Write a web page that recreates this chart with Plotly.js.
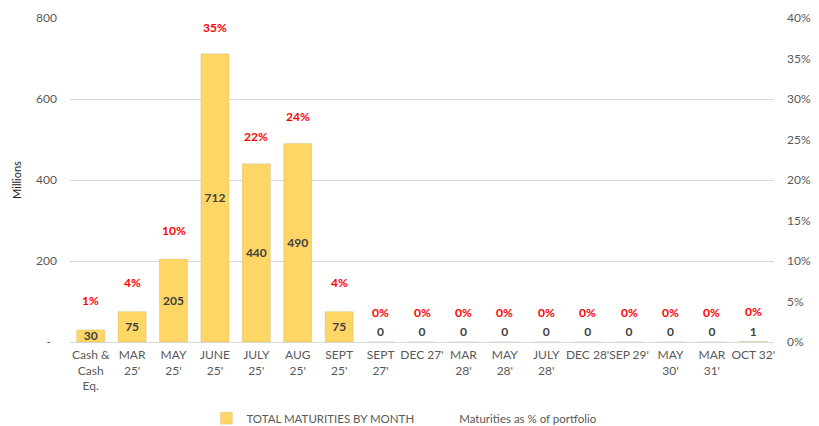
<!DOCTYPE html>
<html>
<head>
<meta charset="utf-8">
<script src="https://cdn.plot.ly/plotly-3.0.1.min.js"></script>
<style>html,body{margin:0;padding:0;background:#fff;}#chart{width:819px;height:426px;}</style>
</head>
<body>
<div id="chart"></div>
<script>
const categories = ["Cash &<br>Cash<br>Eq.", "MAR<br>25'", "MAY<br>25'", "JUNE<br>25'", "JULY<br>25'", "AUG<br>25'", "SEPT<br>25'", "SEPT<br>27'", "DEC 27'", "MAR<br>28'", "MAY<br>28'", "JULY<br>28'", "DEC 28'", "SEP 29'", "MAY<br>30'", "MAR<br>31'", "OCT 32'"];
const maturities = [30, 75, 205, 712, 440, 490, 75, 0, 0, 0, 0, 0, 0, 0, 0, 0, 1];
const pctOfPortfolio = [0.0148, 0.037, 0.1011, 0.3511, 0.217, 0.2416, 0.037, 0, 0, 0, 0, 0, 0, 0, 0, 0, 0.0005];
const leftTickVals = [0, 200, 400, 600, 800];
const leftTickText = ["-\u00a0\u00a0", "200", "400", "600", "800"];
const seriesNames = ["TOTAL MATURITIES BY MONTH", "Maturities as % of portfolio"];

const FONT = "Lato, 'Open Sans', sans-serif";

const barTrace = {
  type: 'bar',
  name: seriesNames[0],
  x: categories,
  y: maturities,
  yaxis: 'y',
  marker: {color: '#FDD666', line: {color: 'rgba(0,0,0,0.08)', width: 1}},
  text: maturities.map(v => String(v)),
  textposition: maturities.map(v => v > 1 ? 'inside' : 'outside'),
  insidetextanchor: 'middle',
  constraintext: 'none',
  textangle: 0,
  cliponaxis: false,
  textfont: {family: FONT, size: 12, color: '#404040', weight: 'bold'},
  insidetextfont: {family: FONT, size: 12, color: '#404040', weight: 'bold'},
  outsidetextfont: {family: FONT, size: 12, color: '#404040', weight: 'bold'},
  hoverinfo: 'x+y'
};

const pctTrace = {
  type: 'scatter',
  mode: 'lines',
  name: seriesNames[1],
  x: categories,
  y: pctOfPortfolio,
  yaxis: 'y2',
  line: {color: 'rgba(0,0,0,0)', width: 2},
  hoverinfo: 'x+y'
};

const annotations = categories.map((c, i) => ({
  x: c,
  y: pctOfPortfolio[i],
  xref: 'x',
  yref: 'y2',
  text: Math.round(pctOfPortfolio[i] * 100) + '%',
  showarrow: false,
  yshift: 30,
  font: {family: FONT, size: 12, color: '#FF0000', weight: 'bold'}
}));

const layout = {
  width: 819,
  height: 426,
  margin: {l: 70, r: 45, t: 18, b: 84, autoexpand: false},
  paper_bgcolor: '#fff',
  plot_bgcolor: '#fff',
  font: {family: FONT, size: 12, color: '#595959'},
  bargap: 0.32,
  showlegend: true,
  legend: {
    orientation: 'h',
    x: 0.475, xanchor: 'center',
    y: -0.235, yanchor: 'middle',
    font: {family: FONT, size: 11.5, color: '#595959'},
    itemwidth: 30,
    traceorder: 'normal'
  },
  xaxis: {
    type: 'category',
    showgrid: false,
    showline: false,
    zeroline: false,
    ticks: '',
    tickangle: 0,
    ticklabelstandoff: 4,
    tickfont: {family: FONT, size: 12, color: '#595959'},
    automargin: false
  },
  yaxis: {
    range: [0, 800],
    tickvals: leftTickVals,
    ticktext: leftTickText,
    showgrid: true,
    gridcolor: '#D9D9D9',
    gridwidth: 1,
    zeroline: true,
    zerolinecolor: '#D9D9D9',
    zerolinewidth: 1,
    showline: false,
    ticks: '',
    ticklabelstandoff: 12,
    tickfont: {family: FONT, size: 12, color: '#595959'},
    title: {text: 'Millions', font: {family: FONT, size: 11, color: '#262626'}, standoff: 12},
    automargin: false
  },
  yaxis2: {
    overlaying: 'y',
    side: 'right',
    range: [0, 0.4],
    dtick: 0.05,
    tickformat: '.0%',
    showgrid: false,
    zeroline: false,
    showline: false,
    ticks: '',
    ticklabelstandoff: 12,
    tickfont: {family: FONT, size: 12, color: '#595959'},
    automargin: false
  },
  annotations: annotations
};

Plotly.newPlot('chart', [barTrace, pctTrace], layout, {displayModeBar: false, staticPlot: true});
</script>
</body>
</html>
